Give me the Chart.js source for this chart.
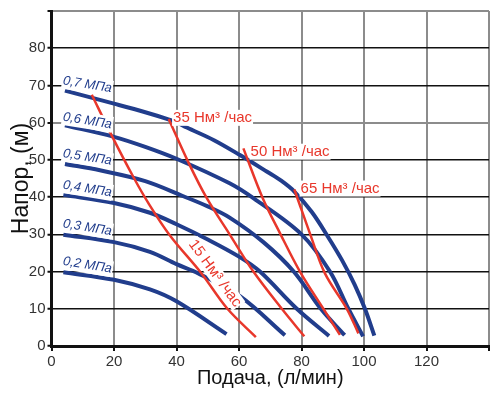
<!DOCTYPE html>
<html>
<head>
<meta charset="utf-8">
<script src="https://cdn.jsdelivr.net/npm/chart.js@4.4.0/dist/chart.umd.min.js"></script>
<style>
  html, body { margin: 0; padding: 0; background: #fff; }
</style>
</head>
<body>
<canvas id="pumpChart" width="497" height="395"></canvas>
<script>
// axis ticks
const xTicks = [0, 20, 40, 60, 80, 100, 120, 140];
const yTicks = [0, 10, 20, 30, 40, 50, 60, 70, 80, 90];

// head curves for each air pressure: [flow л/мин, head м]
const p02 = [[3.8, 19.8], [20, 17.8], [31.5, 15.2], [40, 12], [56, 3.2]];
const p03 = [[3.8, 29.9], [20, 27.9], [31.5, 25.3], [40, 22], [47, 19.5], [60.3, 13.4], [74.7, 2.9]];
const p04 = [[3.8, 40.6], [20, 38.4], [31.5, 35.8], [40, 32.7], [50, 28.6], [60, 24], [66.7, 20], [78.5, 10], [88.8, 2.7]];
const p05 = [[4.3, 48.9], [15.5, 47.2], [30, 44.3], [42, 40.3], [50, 37.5], [57, 34.5], [67.8, 27.9], [77.5, 20], [86.2, 10], [93.8, 2.9]];
const p06 = [[4.3, 59.3], [20, 56.2], [30, 53.5], [40, 50.3], [57, 43.7], [64.6, 39.7], [80, 30], [89.1, 20], [95, 10], [99.7, 2.6]];
const p07 = [[4.3, 68.6], [20, 65.1], [30, 62.8], [37.4, 60.9], [40, 60.1], [43.3, 58.7], [52, 55.3], [60.3, 51.3], [69, 46.8], [73.5, 44.4], [77.7, 41.5], [83.3, 36], [88.5, 29.3], [93, 23], [97, 16.5], [100.3, 10], [103.3, 2.8]];
const pressureNames = ["0,2 МПа", "0,3 МПа", "0,4 МПа", "0,5 МПа", "0,6 МПа", "0,7 МПа"];

// air consumption lines
const a15 = [[12.9, 67.5], [19, 57], [26.2, 45.4], [31, 38.4], [37.9, 29.7], [48, 19.5], [56.3, 10], [65.4, 2.4]];
const a35 = [[37.5, 61], [44, 49], [49.7, 39.7], [57, 30], [64.6, 20], [73.7, 10], [80.9, 2.6]];
const a50 = [[61.4, 53.1], [67.6, 39.7], [73.3, 30], [79.5, 20], [87, 10], [92.3, 3]];
const a65 = [[77.7, 42.1], [78.7, 39.7], [82.8, 30], [87.5, 19.5], [94.5, 10], [98.2, 3.4]];
const airNames = ["15 Нм³ /час", "35 Нм³ /час", "50 Нм³ /час", "65 Нм³ /час"];

// where the labels sit, in chart units
const pressureLabelAt = [[11.5, 21.7], [11.5, 31.8], [11.5, 42.2], [11.5, 50.7], [11.5, 60.5], [11.5, 70.2]];
const airLabelAt = [[52.3, 19.5], [38.9, 61.3], [63.7, 52.2], [79.7, 42.3]];

const BLUE = "#213d8c";
const RED = "#e8372b";
const FONT = "'Liberation Sans', Arial, sans-serif";

const toPoints = (arr) => arr.map(([x, y]) => ({ x, y }));

const pressureSets = [p02, p03, p04, p05, p06, p07].map((arr, i) => ({
  label: pressureNames[i],
  data: toPoints(arr),
  borderColor: BLUE,
  borderWidth: 4,
  order: 2,
}));

const airSets = [a15, a35, a50, a65].map((arr, i) => ({
  label: airNames[i],
  data: toPoints(arr),
  borderColor: RED,
  borderWidth: 2.5,
  order: 1,
}));

// draws text with a white box behind it
const boxedText = (ctx, text, x, y, angle, color, font, align) => {
  ctx.save();
  ctx.translate(x, y);
  ctx.rotate(angle);
  ctx.font = font;
  ctx.textBaseline = "middle";
  ctx.textAlign = align;
  const w = ctx.measureText(text).width;
  const left = align === "center" ? -w / 2 : 0;
  ctx.fillStyle = "#fff";
  ctx.fillRect(left - 1, -8, w + 2, 16);
  ctx.fillStyle = color;
  ctx.fillText(text, 0, 0);
  ctx.restore();
};

const curveLabels = {
  id: "curveLabels",
  afterDatasetsDraw(chart) {
    const { ctx, scales: { x, y } } = chart;
    pressureNames.forEach((name, i) => {
      const [lx, ly] = pressureLabelAt[i];
      boxedText(ctx, name, x.getPixelForValue(lx), y.getPixelForValue(ly),
        0.16, BLUE, "italic 13px " + FONT, "center");
    });
    airNames.forEach((name, i) => {
      const [lx, ly] = airLabelAt[i];
      const rotated = i === 0;
      boxedText(ctx, name, x.getPixelForValue(lx), y.getPixelForValue(ly),
        rotated ? 0.94 : 0, RED, "15px " + FONT, rotated ? "center" : "left");
    });
  },
};

const ctx = document.getElementById("pumpChart").getContext("2d");

new Chart(ctx, {
  type: "scatter",
  data: { datasets: [...pressureSets, ...airSets] },
  options: {
    responsive: false,
    animation: false,
    devicePixelRatio: 1,
    datasets: {
      scatter: {
        showLine: true,
        pointRadius: 0,
        fill: false,
        tension: 0.35,
        borderCapStyle: "butt",
      },
    },
    layout: { padding: { top: 5, right: 8, left: 0, bottom: 0 } },
    plugins: {
      legend: { display: false },
      tooltip: { enabled: false },
    },
    scales: {
      x: {
        type: "linear",
        min: 0,
        max: 140,
        afterBuildTicks: (scale) => {
          scale.ticks = xTicks.map((v) => ({ value: v }));
        },
        afterFit: (scale) => {
          scale.height = 49;
        },
        ticks: {
          padding: 2,
          color: "#333",
          font: { size: 15, family: FONT },
          callback: (v) => (v === 140 ? "" : v),
        },
        grid: {
          color: (c) => (c.tick.value === 0 ? "rgba(0,0,0,0)" : "#8c8c8c"),
          lineWidth: 2,
          tickLength: 5,
          tickColor: "#111",
          tickWidth: 2,
        },
        border: { display: true, color: "#111", width: 3 },
        title: {
          display: true,
          text: "Подача, (л/мин)",
          color: "#111",
          padding: { top: 0, bottom: 5 },
          font: { size: 20, family: FONT },
        },
      },
      y: {
        type: "linear",
        min: 0,
        max: 90,
        afterBuildTicks: (scale) => {
          scale.ticks = yTicks.map((v) => ({ value: v }));
        },
        afterFit: (scale) => {
          scale.width = 51.5;
        },
        ticks: {
          padding: 2,
          color: "#333",
          font: { size: 15, family: FONT },
          callback: (v) => (v === 90 ? "" : v),
        },
        grid: {
          color: (c) => {
            const v = c.tick.value;
            if (v === 0) return "rgba(0,0,0,0)";
            if (v === 90 || v === 60) return "#8c8c8c";
            return "#111";
          },
          lineWidth: (c) => (c.tick.value === 90 || c.tick.value === 60 ? 2 : 1.5),
          tickLength: 4,
          tickColor: "#111",
          tickWidth: 2,
        },
        border: { display: true, color: "#111", width: 3 },
        title: {
          display: true,
          text: "Напор, (м)",
          color: "#111",
          padding: { top: 8, bottom: 0 },
          font: { size: 23, family: FONT },
        },
      },
    },
  },
  plugins: [curveLabels],
});
</script>
</body>
</html>
